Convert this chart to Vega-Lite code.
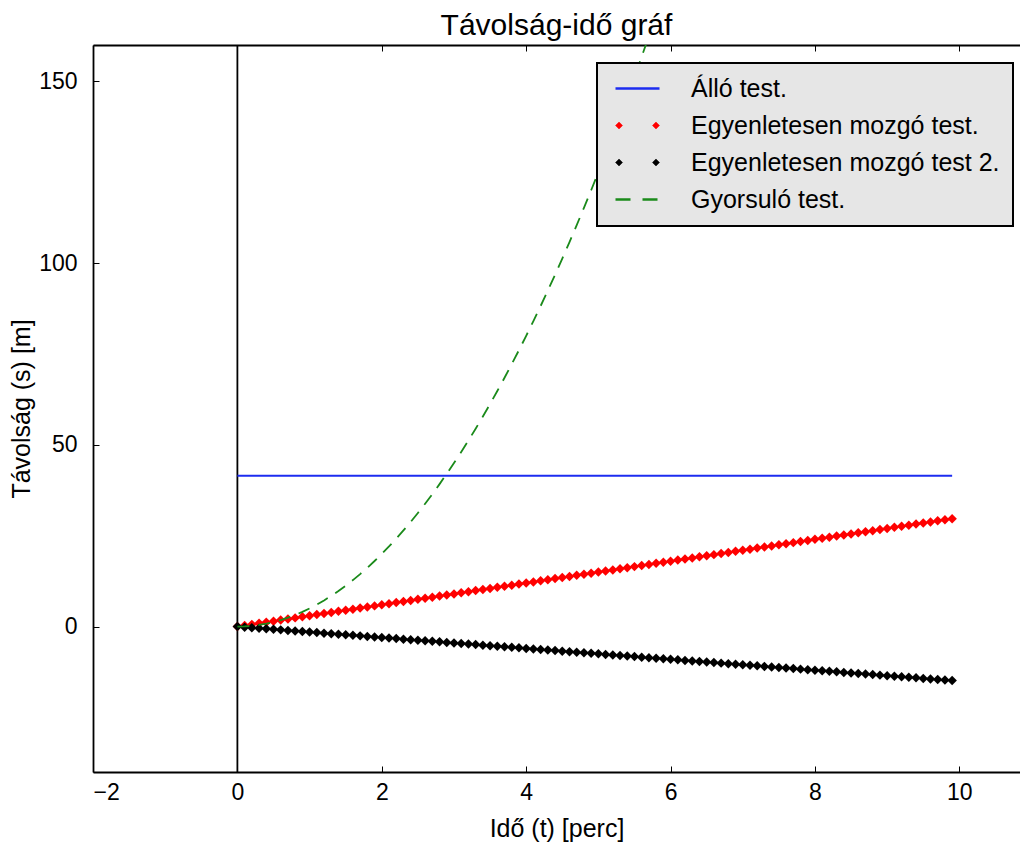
{
  "$schema": "https://vega.github.io/schema/vega-lite/v6.json",
  "autosize": {"type": "none"},
  "width": 927,
  "height": 727,
  "padding": {"left": 93, "top": 45, "right": 0, "bottom": 74},
  "background": "white",
  "title": {"text": "Távolság-idő gráf", "fontSize": 30, "fontWeight": "normal", "font": "Liberation Sans", "color": "black", "anchor": "middle", "baseline": "alphabetic", "offset": 8, "dy": 29},
  "datasets": {
    "allo": [{"t": 0, "s": 41.5}, {"t": 9.9, "s": 41.5}],
    "zero": [{"z": 0}],
    "main": [
      {"t":0,"r":0,"b":0,"g":0},{"t":0.1,"r":0.3,"b":-0.15,"g":0.05},{"t":0.2,"r":0.6,"b":-0.3,"g":0.2},{"t":0.3,"r":0.9,"b":-0.45,"g":0.45},{"t":0.4,"r":1.2,"b":-0.6,"g":0.8},{"t":0.5,"r":1.5,"b":-0.75,"g":1.25},{"t":0.6,"r":1.8,"b":-0.9,"g":1.8},{"t":0.7,"r":2.1,"b":-1.05,"g":2.45},{"t":0.8,"r":2.4,"b":-1.2,"g":3.2},{"t":0.9,"r":2.7,"b":-1.35,"g":4.05},
      {"t":1,"r":3,"b":-1.5,"g":5},{"t":1.1,"r":3.3,"b":-1.65,"g":6.05},{"t":1.2,"r":3.6,"b":-1.8,"g":7.2},{"t":1.3,"r":3.9,"b":-1.95,"g":8.45},{"t":1.4,"r":4.2,"b":-2.1,"g":9.8},{"t":1.5,"r":4.5,"b":-2.25,"g":11.25},{"t":1.6,"r":4.8,"b":-2.4,"g":12.8},{"t":1.7,"r":5.1,"b":-2.55,"g":14.45},{"t":1.8,"r":5.4,"b":-2.7,"g":16.2},{"t":1.9,"r":5.7,"b":-2.85,"g":18.05},
      {"t":2,"r":6,"b":-3,"g":20},{"t":2.1,"r":6.3,"b":-3.15,"g":22.05},{"t":2.2,"r":6.6,"b":-3.3,"g":24.2},{"t":2.3,"r":6.9,"b":-3.45,"g":26.45},{"t":2.4,"r":7.2,"b":-3.6,"g":28.8},{"t":2.5,"r":7.5,"b":-3.75,"g":31.25},{"t":2.6,"r":7.8,"b":-3.9,"g":33.8},{"t":2.7,"r":8.1,"b":-4.05,"g":36.45},{"t":2.8,"r":8.4,"b":-4.2,"g":39.2},{"t":2.9,"r":8.7,"b":-4.35,"g":42.05},
      {"t":3,"r":9,"b":-4.5,"g":45},{"t":3.1,"r":9.3,"b":-4.65,"g":48.05},{"t":3.2,"r":9.6,"b":-4.8,"g":51.2},{"t":3.3,"r":9.9,"b":-4.95,"g":54.45},{"t":3.4,"r":10.2,"b":-5.1,"g":57.8},{"t":3.5,"r":10.5,"b":-5.25,"g":61.25},{"t":3.6,"r":10.8,"b":-5.4,"g":64.8},{"t":3.7,"r":11.1,"b":-5.55,"g":68.45},{"t":3.8,"r":11.4,"b":-5.7,"g":72.2},{"t":3.9,"r":11.7,"b":-5.85,"g":76.05},
      {"t":4,"r":12,"b":-6,"g":80},{"t":4.1,"r":12.3,"b":-6.15,"g":84.05},{"t":4.2,"r":12.6,"b":-6.3,"g":88.2},{"t":4.3,"r":12.9,"b":-6.45,"g":92.45},{"t":4.4,"r":13.2,"b":-6.6,"g":96.8},{"t":4.5,"r":13.5,"b":-6.75,"g":101.25},{"t":4.6,"r":13.8,"b":-6.9,"g":105.8},{"t":4.7,"r":14.1,"b":-7.05,"g":110.45},{"t":4.8,"r":14.4,"b":-7.2,"g":115.2},{"t":4.9,"r":14.7,"b":-7.35,"g":120.05},
      {"t":5,"r":15,"b":-7.5,"g":125},{"t":5.1,"r":15.3,"b":-7.65,"g":130.05},{"t":5.2,"r":15.6,"b":-7.8,"g":135.2},{"t":5.3,"r":15.9,"b":-7.95,"g":140.45},{"t":5.4,"r":16.2,"b":-8.1,"g":145.8},{"t":5.5,"r":16.5,"b":-8.25,"g":151.25},{"t":5.6,"r":16.8,"b":-8.4,"g":156.8},{"t":5.7,"r":17.1,"b":-8.55,"g":162.45},{"t":5.8,"r":17.4,"b":-8.7,"g":168.2},{"t":5.9,"r":17.7,"b":-8.85,"g":174.05},
      {"t":6,"r":18,"b":-9,"g":180},{"t":6.1,"r":18.3,"b":-9.15},{"t":6.2,"r":18.6,"b":-9.3},{"t":6.3,"r":18.9,"b":-9.45},{"t":6.4,"r":19.2,"b":-9.6},{"t":6.5,"r":19.5,"b":-9.75},{"t":6.6,"r":19.8,"b":-9.9},{"t":6.7,"r":20.1,"b":-10.05},{"t":6.8,"r":20.4,"b":-10.2},{"t":6.9,"r":20.7,"b":-10.35},
      {"t":7,"r":21,"b":-10.5},{"t":7.1,"r":21.3,"b":-10.65},{"t":7.2,"r":21.6,"b":-10.8},{"t":7.3,"r":21.9,"b":-10.95},{"t":7.4,"r":22.2,"b":-11.1},{"t":7.5,"r":22.5,"b":-11.25},{"t":7.6,"r":22.8,"b":-11.4},{"t":7.7,"r":23.1,"b":-11.55},{"t":7.8,"r":23.4,"b":-11.7},{"t":7.9,"r":23.7,"b":-11.85},
      {"t":8,"r":24,"b":-12},{"t":8.1,"r":24.3,"b":-12.15},{"t":8.2,"r":24.6,"b":-12.3},{"t":8.3,"r":24.9,"b":-12.45},{"t":8.4,"r":25.2,"b":-12.6},{"t":8.5,"r":25.5,"b":-12.75},{"t":8.6,"r":25.8,"b":-12.9},{"t":8.7,"r":26.1,"b":-13.05},{"t":8.8,"r":26.4,"b":-13.2},{"t":8.9,"r":26.7,"b":-13.35},
      {"t":9,"r":27,"b":-13.5},{"t":9.1,"r":27.3,"b":-13.65},{"t":9.2,"r":27.6,"b":-13.8},{"t":9.3,"r":27.9,"b":-13.95},{"t":9.4,"r":28.2,"b":-14.1},{"t":9.5,"r":28.5,"b":-14.25},{"t":9.6,"r":28.8,"b":-14.4},{"t":9.7,"r":29.1,"b":-14.55},{"t":9.8,"r":29.4,"b":-14.7},{"t":9.9,"r":29.7,"b":-14.85}
    ]
  },
  "resolve": {"axis": {"x": "independent"}},
  "layer": [
    {
      "data": {"name": "zero"},
      "mark": {"type": "rule", "color": "black", "strokeWidth": 1.8},
      "encoding": {
        "x": {"field": "z", "type": "quantitative",
              "scale": {"domain": [-2, 10.84], "nice": false, "zero": false},
              "axis": {"orient": "bottom", "values": [-2, 0, 2, 4, 6, 8, 10], "title": "Idő (t) [perc]", "titlePadding": 12, "labelPadding": 15}}
      }
    },
    {
      "data": {"name": "zero"},
      "mark": {"type": "rule", "color": "black", "strokeWidth": 1.8},
      "encoding": {
        "y": {"field": "z", "type": "quantitative",
              "scale": {"domain": [-40, 160], "nice": false, "zero": false},
              "axis": {"orient": "left", "values": [0, 50, 100, 150], "title": "Távolság (s) [m]", "titlePadding": 4, "labelPadding": 22}},
        "x": {"field": "z", "type": "quantitative",
              "axis": {"orient": "top", "values": [-2, 0, 2, 4, 6, 8, 10], "labels": false, "title": null}},
        "opacity": {"value": 0}
      }
    },
    {
      "data": {"name": "allo"},
      "mark": {"type": "line", "strokeWidth": 1.8},
      "encoding": {
        "x": {"field": "t", "type": "quantitative", "axis": null},
        "y": {"field": "s", "type": "quantitative"},
        "color": {"datum": "Álló test.", "type": "nominal",
                  "scale": {"domain": ["Álló test.", "Egyenletesen mozgó test.", "Egyenletesen mozgó test 2.", "Gyorsuló test."],
                            "range": ["#1c2cf0", "#ff0000", "#000000", "#1a8a1a"]},
                  "legend": {
                    "orient": "none", "legendX": 504, "legendY": 18, "title": null,
                    "fillColor": "#e6e6e6", "strokeColor": "#000000",
                    "padding": 13, "labelFontSize": 25, "labelColor": "black", "labelFont": "Liberation Sans",
                    "symbolSize": 1936, "labelOffset": 41, "rowPadding": 11, "symbolOffset": 15,
                    "labelLimit": 400,
                    "encode": {
                      "legend": {"update": {"strokeWidth": {"value": 2}}},
                      "symbols": {"update": {
                        "shape": {"signal": "(datum.value === 'Álló test.' || datum.value === 'Gyorsuló test.') ? 'stroke' : 'M-1,0L-0.84,-0.16L-0.68,0L-0.84,0.16Z M0.68,0L0.84,-0.16L1,0L0.84,0.16Z'"},
                        "strokeDash": {"signal": "datum.value === 'Gyorsuló test.' ? [15, 12] : []"},
                        "stroke": {"scale": "color", "field": "value"},
                        "fill": [{"test": "datum.value === 'Álló test.' || datum.value === 'Gyorsuló test.'", "value": "transparent"}, {"scale": "color", "field": "value"}],
                        "strokeWidth": {"signal": "(datum.value === 'Álló test.' || datum.value === 'Gyorsuló test.') ? 2.4 : 0.5"},
                        "opacity": {"value": 1}
                      }}
                    }
                  }}
      }
    },
    {
      "data": {"name": "main"},
      "mark": {"type": "point", "shape": "diamond", "filled": true, "size": 90, "opacity": 1},
      "encoding": {
        "x": {"field": "t", "type": "quantitative", "axis": null},
        "y": {"field": "r", "type": "quantitative"},
        "color": {"datum": "Egyenletesen mozgó test.", "type": "nominal"}
      }
    },
    {
      "data": {"name": "main"},
      "mark": {"type": "point", "shape": "diamond", "filled": true, "size": 90, "opacity": 1},
      "encoding": {
        "x": {"field": "t", "type": "quantitative", "axis": null},
        "y": {"field": "b", "type": "quantitative"},
        "color": {"datum": "Egyenletesen mozgó test 2.", "type": "nominal"}
      }
    },
    {
      "data": {"name": "main"},
      "mark": {"type": "line", "strokeWidth": 1.8, "strokeDash": [12, 9], "clip": true},
      "encoding": {
        "x": {"field": "t", "type": "quantitative", "axis": null},
        "y": {"field": "g", "type": "quantitative"},
        "color": {"datum": "Gyorsuló test.", "type": "nominal"}
      }
    }
  ],
  "config": {
    "font": "Liberation Sans",
    "view": {"stroke": null},
    "axis": {
      "grid": false,
      "domainColor": "black", "domainWidth": 1.8,
      "tickColor": "black", "tickWidth": 1, "tickSize": -6,
      "labelFontSize": 23, "labelColor": "black", "labelFont": "Liberation Sans",
      "titleFontSize": 25, "titleFontWeight": "normal", "titleColor": "black", "titleFont": "Liberation Sans"
    }
  }
}
